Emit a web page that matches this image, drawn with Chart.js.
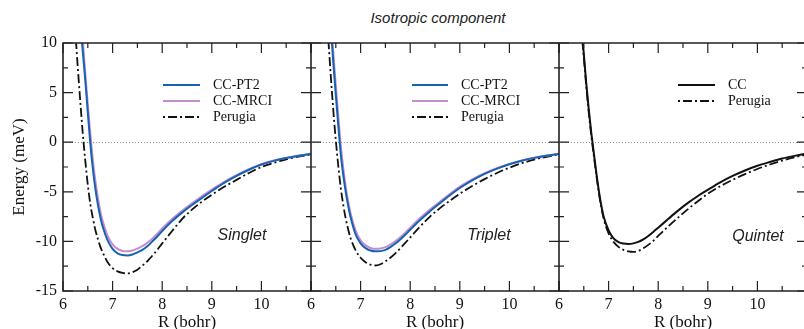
<!DOCTYPE html>
<html>
<head>
<meta charset="utf-8">
<script src="https://cdn.jsdelivr.net/npm/chart.js@4.4.1/dist/chart.umd.min.js"></script>
<style>
  html, body { margin: 0; padding: 0; background: #fff; overflow: hidden; }
  body { width: 804px; height: 329px; position: relative; }
  canvas { position: absolute; top: 0; }
  #title { position: absolute; top: 9px; left: 338px; width: 200px; line-height: 18px; text-align: center;
           font: italic 15px 'Liberation Sans', Arial, sans-serif; color: #222; }
</style>
</head>
<body>
<div id="title">Isotropic component</div>
<canvas id="c1"></canvas>
<canvas id="c2"></canvas>
<canvas id="c3"></canvas>
<script>
// R in bohr, energies in meV
const singletPt2R = [6.38, 6.45, 6.5, 6.55, 6.6, 6.65, 6.7, 6.75, 6.8, 6.9, 7.0, 7.1, 7.2, 7.3, 7.4, 7.5, 7.6, 7.7, 7.8, 7.9, 8.0, 8.2, 8.4, 8.6, 8.8, 9.0, 9.25, 9.5, 9.75, 10.0, 10.25, 10.5, 10.75, 11.0];
const singletPt2E = [10.2, 6.2, 3.0, -0.1, -2.6, -4.6, -6.2, -7.5, -8.5, -9.9, -10.75, -11.2, -11.38, -11.42, -11.32, -11.1, -10.85, -10.5, -10.0, -9.5, -8.95, -7.95, -7.1, -6.33, -5.62, -4.92, -4.1, -3.4, -2.78, -2.25, -1.88, -1.6, -1.37, -1.18];
const singletMrciR = [6.40, 6.45, 6.5, 6.55, 6.6, 6.65, 6.7, 6.75, 6.8, 6.9, 7.0, 7.1, 7.2, 7.3, 7.4, 7.5, 7.6, 7.7, 7.8, 7.9, 8.0, 8.2, 8.4, 8.6, 8.8, 9.0, 9.25, 9.5, 9.75, 10.0, 10.25, 10.5, 10.75, 11.0];
const singletMrciE = [10.2, 6.9, 3.8, 0.9, -1.7, -3.8, -5.5, -6.9, -7.95, -9.45, -10.3, -10.76, -10.96, -11.0, -10.92, -10.72, -10.48, -10.15, -9.72, -9.22, -8.7, -7.75, -6.92, -6.16, -5.45, -4.78, -4.0, -3.33, -2.73, -2.22, -1.85, -1.58, -1.36, -1.17];
const singletPerugiaR = [6.26, 6.3, 6.35, 6.4, 6.45, 6.5, 6.55, 6.6, 6.65, 6.7, 6.75, 6.8, 6.9, 7.0, 7.1, 7.2, 7.3, 7.4, 7.5, 7.6, 7.7, 7.8, 7.9, 8.0, 8.2, 8.4, 8.6, 8.8, 9.0, 9.25, 9.5, 9.75, 10.0, 10.25, 10.5, 10.75, 11.0];
const singletPerugiaE = [10.3, 7.4, 4.0, 0.8, -1.9, -4.3, -6.2, -7.6, -8.8, -9.7, -10.5, -11.1, -12.1, -12.7, -13.02, -13.18, -13.22, -13.1, -12.85, -12.45, -12.0, -11.45, -10.85, -10.2, -8.95, -7.75, -6.8, -6.0, -5.3, -4.5, -3.8, -3.1, -2.5, -2.08, -1.73, -1.45, -1.23];

const tripletPt2R = [6.42, 6.45, 6.5, 6.55, 6.6, 6.65, 6.7, 6.75, 6.8, 6.9, 7.0, 7.1, 7.2, 7.3, 7.4, 7.5, 7.6, 7.7, 7.8, 7.9, 8.0, 8.2, 8.4, 8.6, 8.8, 9.0, 9.25, 9.5, 9.75, 10.0, 10.25, 10.5, 10.75, 11.0];
const tripletPt2E = [10.2, 8.0, 4.8, 1.7, -1.2, -3.3, -5.0, -6.4, -7.6, -9.3, -10.2, -10.68, -10.92, -11.0, -10.98, -10.85, -10.58, -10.22, -9.8, -9.33, -8.83, -7.85, -6.95, -6.15, -5.35, -4.62, -3.85, -3.2, -2.67, -2.23, -1.87, -1.58, -1.36, -1.18];
const tripletMrciR = [6.43, 6.45, 6.5, 6.55, 6.6, 6.65, 6.7, 6.75, 6.8, 6.9, 7.0, 7.1, 7.2, 7.3, 7.4, 7.5, 7.6, 7.7, 7.8, 7.9, 8.0, 8.2, 8.4, 8.6, 8.8, 9.0, 9.25, 9.5, 9.75, 10.0, 10.25, 10.5, 10.75, 11.0];
const tripletMrciE = [10.3, 9.0, 5.7, 2.6, -0.3, -2.6, -4.5, -6.0, -7.2, -8.9, -9.9, -10.4, -10.66, -10.75, -10.72, -10.58, -10.32, -9.98, -9.58, -9.12, -8.62, -7.65, -6.78, -6.0, -5.22, -4.48, -3.74, -3.12, -2.62, -2.19, -1.84, -1.56, -1.35, -1.17];
const tripletPerugiaR = [6.35, 6.4, 6.45, 6.5, 6.55, 6.6, 6.65, 6.7, 6.75, 6.8, 6.9, 7.0, 7.1, 7.2, 7.3, 7.4, 7.5, 7.6, 7.7, 7.8, 7.9, 8.0, 8.2, 8.4, 8.6, 8.8, 9.0, 9.25, 9.5, 9.75, 10.0, 10.25, 10.5, 10.75, 11.0];
const tripletPerugiaE = [10.3, 6.6, 3.2, 0.2, -2.4, -4.6, -6.3, -7.7, -8.8, -9.7, -10.9, -11.65, -12.1, -12.35, -12.43, -12.3, -12.02, -11.65, -11.2, -10.7, -10.15, -9.6, -8.5, -7.5, -6.65, -5.9, -5.2, -4.42, -3.72, -3.1, -2.57, -2.12, -1.76, -1.47, -1.23];

const quintetCcR = [6.48, 6.5, 6.55, 6.6, 6.65, 6.7, 6.75, 6.8, 6.85, 6.9, 7.0, 7.1, 7.2, 7.3, 7.4, 7.5, 7.6, 7.7, 7.8, 7.9, 8.0, 8.2, 8.4, 8.6, 8.8, 9.0, 9.25, 9.5, 9.75, 10.0, 10.25, 10.5, 10.75, 11.0];
const quintetCcE = [10.2, 8.9, 5.9, 3.3, 1.0, -1.0, -3.0, -4.8, -6.3, -7.5, -8.9, -9.7, -10.08, -10.22, -10.26, -10.2, -10.05, -9.8, -9.45, -9.05, -8.62, -7.75, -6.9, -6.12, -5.42, -4.8, -4.05, -3.4, -2.85, -2.38, -2.0, -1.65, -1.38, -1.15];
const quintetPerugiaR = [6.47, 6.5, 6.55, 6.6, 6.65, 6.7, 6.75, 6.8, 6.85, 6.9, 7.0, 7.1, 7.2, 7.3, 7.4, 7.5, 7.6, 7.7, 7.8, 7.9, 8.0, 8.2, 8.4, 8.6, 8.8, 9.0, 9.25, 9.5, 9.75, 10.0, 10.25, 10.5, 10.75, 11.0];
const quintetPerugiaE = [10.2, 8.6, 5.6, 3.0, 0.7, -1.3, -3.2, -5.0, -6.5, -7.7, -9.2, -10.05, -10.55, -10.85, -11.0, -11.05, -10.95, -10.7, -10.35, -9.95, -9.45, -8.5, -7.6, -6.75, -5.95, -5.2, -4.45, -3.8, -3.22, -2.7, -2.25, -1.85, -1.52, -1.25];

const xMin = 6, xMax = 11, xStep = 1, xMinor = 0.5;
const yMin = -15, yMax = 10, yStep = 5, yMinor = 2.5;

const BLUE = '#1862b4';
const ORCHID = '#c48dd0';
const BLACK = '#111111';
const DASHDOT = [9, 3, 2, 3];
const SERIF = "'Liberation Serif', 'Times New Roman', serif";
const SANS = "'Liberation Sans', Arial, sans-serif";

const pts = (r, e) => r.map((x, i) => ({ x, y: e[i] }));

// axes box, inward ticks, zero line, in-plot legend and panel name
const framePlugin = {
  id: 'frame',
  beforeDatasetsDraw(chart) {
    const { ctx, chartArea: a, scales: { y } } = chart;
    const y0 = Math.round(y.getPixelForValue(0)) + 0.5;
    ctx.save();
    ctx.strokeStyle = '#8c8c8c';
    ctx.lineWidth = 1;
    ctx.setLineDash([1, 2]);
    ctx.beginPath();
    ctx.moveTo(a.left, y0);
    ctx.lineTo(a.right, y0);
    ctx.stroke();
    ctx.restore();
  },
  afterDatasetsDraw(chart, args, opts) {
    const { ctx, chartArea: a, scales: { x, y } } = chart;
    ctx.save();
    ctx.strokeStyle = '#222';
    ctx.lineWidth = 1.2;
    ctx.beginPath();
    for (let v = xMin; v <= xMax + 1e-9; v += xMinor) {
      const px = x.getPixelForValue(v);
      const len = Math.abs(v % xStep) < 1e-9 ? 10 : 5;
      ctx.moveTo(px, a.bottom); ctx.lineTo(px, a.bottom - len);
      ctx.moveTo(px, a.top); ctx.lineTo(px, a.top + len);
    }
    for (let v = yMin; v <= yMax + 1e-9; v += yMinor) {
      const py = y.getPixelForValue(v);
      const len = Math.abs(v % yStep) < 1e-9 ? 10 : 5;
      ctx.moveTo(a.left, py); ctx.lineTo(a.left + len, py);
      ctx.moveTo(a.right, py); ctx.lineTo(a.right - len, py);
    }
    ctx.stroke();
    ctx.lineWidth = 1.6;
    ctx.beginPath();
    ctx.moveTo(a.right, a.top);
    ctx.lineTo(a.left, a.top);
    if (opts.leftEdge) ctx.lineTo(a.left, a.bottom); else ctx.moveTo(a.left, a.bottom);
    ctx.lineTo(a.right, a.bottom);
    ctx.lineTo(a.right, a.top);
    ctx.stroke();

    // legend
    const lg = opts.legend;
    ctx.font = '14px ' + SERIF;
    ctx.textBaseline = 'middle';
    ctx.textAlign = 'left';
    ctx.fillStyle = BLACK;
    chart.data.datasets.forEach((ds, i) => {
      const ly = a.top + lg.y + i * lg.dy;
      ctx.strokeStyle = ds.borderColor;
      ctx.lineWidth = ds.borderWidth;
      ctx.setLineDash(ds.borderDash || []);
      ctx.lineDashOffset = ds.borderDash && ds.borderDash.length ? 12 : 0;
      ctx.beginPath();
      ctx.moveTo(a.left + lg.x0, ly);
      ctx.lineTo(a.left + lg.x1, ly);
      ctx.stroke();
      ctx.fillText(ds.label, a.left + lg.tx, ly);
    });
    ctx.setLineDash([]);

    // panel name
    ctx.font = 'italic 16px ' + SANS;
    ctx.textAlign = 'center';
    ctx.textBaseline = 'alphabetic';
    ctx.fillStyle = '#222';
    ctx.fillText(opts.name, a.left + opts.nameX, a.top + opts.nameY);
    ctx.restore();
  }
};

const panels = [
  {
    id: 'c1', left: 0, width: 318, yWidth: 63, padRight: 7, yLabels: true, leftEdge: true,
    name: 'Singlet', nameX: 179, nameY: 197,
    legend: { x0: 100, x1: 137, tx: 150, y: 42, dy: 16 },
    series: [
      { label: 'CC-PT2', r: singletPt2R, e: singletPt2E, color: BLUE },
      { label: 'CC-MRCI', r: singletMrciR, e: singletMrciE, color: ORCHID },
      { label: 'Perugia', r: singletPerugiaR, e: singletPerugiaE, color: BLACK, dash: DASHDOT, width: 1.8 }
    ]
  },
  {
    id: 'c2', left: 299, width: 273, yWidth: 12, padRight: 13, yLabels: false, leftEdge: false,
    name: 'Triplet', nameX: 178, nameY: 197,
    legend: { x0: 101, x1: 137, tx: 150, y: 42, dy: 16 },
    series: [
      { label: 'CC-PT2', r: tripletPt2R, e: tripletPt2E, color: BLUE },
      { label: 'CC-MRCI', r: tripletMrciR, e: tripletMrciE, color: ORCHID },
      { label: 'Perugia', r: tripletPerugiaR, e: tripletPerugiaE, color: BLACK, dash: DASHDOT, width: 1.8 }
    ]
  },
  {
    id: 'c3', left: 547, width: 273, yWidth: 12, padRight: 13, yLabels: false, leftEdge: false,
    name: 'Quintet', nameX: 199, nameY: 198,
    legend: { x0: 119, x1: 156, tx: 169, y: 42, dy: 16 },
    series: [
      { label: 'CC', r: quintetCcR, e: quintetCcE, color: BLACK },
      { label: 'Perugia', r: quintetPerugiaR, e: quintetPerugiaE, color: BLACK, dash: DASHDOT, width: 1.8 }
    ]
  }
];

function makeChart(p) {
  const cv = document.getElementById(p.id);
  cv.width = p.width;
  cv.height = 331;
  cv.style.left = p.left + 'px';
  return new Chart(cv, {
    type: 'line',
    data: {
      datasets: p.series.map((s) => ({
        label: s.label,
        data: pts(s.r, s.e),
        borderColor: s.color,
        borderWidth: s.width || 2,
        borderDash: s.dash || [],
        pointRadius: 0,
        fill: false,
        cubicInterpolationMode: 'monotone'
      }))
    },
    options: {
      responsive: false,
      animation: false,
      devicePixelRatio: 1,
      events: [],
      layout: { padding: { top: 43, right: p.padRight, bottom: 0, left: 0 } },
      plugins: {
        legend: { display: false },
        tooltip: { enabled: false },
        frame: { legend: p.legend, name: p.name, nameX: p.nameX, nameY: p.nameY, leftEdge: p.leftEdge }
      },
      scales: {
        x: {
          type: 'linear', min: xMin, max: xMax,
          grid: { display: false, drawTicks: false },
          border: { display: false },
          ticks: {
            stepSize: xStep, padding: 4, color: BLACK, maxRotation: 0,
            font: { family: SERIF, size: 16 },
            callback: (v) => (v === xMax ? '' : String(v))
          },
          title: {
            display: true, text: 'R (bohr)', color: BLACK,
            font: { family: SERIF, size: 17, lineHeight: 1 },
            padding: { top: 0, bottom: 0 }
          },
          afterFit: (s) => { s.height = 40; }
        },
        y: {
          type: 'linear', min: yMin, max: yMax,
          grid: { display: false, drawTicks: false },
          border: { display: false },
          ticks: {
            display: p.yLabels, stepSize: yStep, padding: 6, color: BLACK,
            font: { family: SERIF, size: 16 },
            callback: (v) => String(v)
          },
          title: {
            display: p.yLabels, text: 'Energy (meV)', color: BLACK,
            font: { family: SERIF, size: 17, lineHeight: 1 },
            padding: { top: 11, bottom: 0 }
          },
          afterFit: (s) => { s.width = p.yWidth; }
        }
      }
    },
    plugins: [framePlugin]
  });
}

panels.forEach(makeChart);
</script>
</body>
</html>
